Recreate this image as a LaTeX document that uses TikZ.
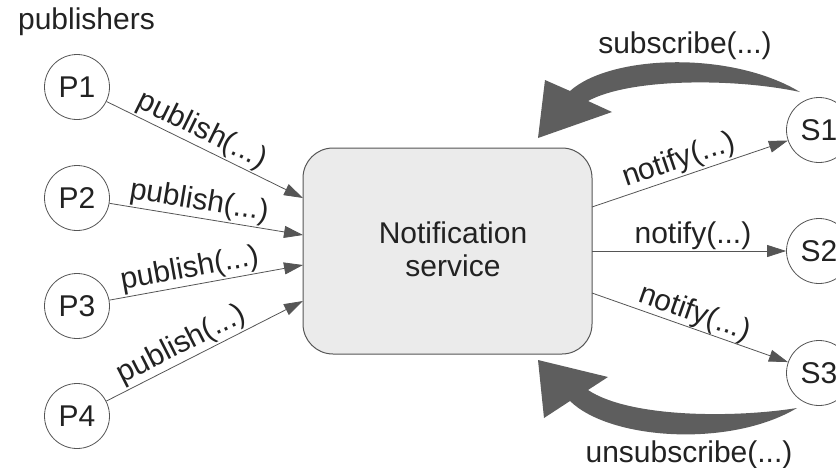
\documentclass[tikz,border=0pt]{standalone}
\usepackage{fontspec}
\setmainfont{Liberation Sans}
\usetikzlibrary{arrows.meta}
\definecolor{ink}{HTML}{222222}
\definecolor{edge}{HTML}{555555}
\definecolor{boxfill}{HTML}{EBEBEB}
\definecolor{bigarrow}{HTML}{5E5E5E}
\begin{document}
\begin{tikzpicture}[x=1pt,y=-1pt,
  font=\fontsize{30}{33}\selectfont, text=ink,
  party/.style={circle, draw=edge, line width=0.8pt, minimum size=65pt, inner sep=0pt, fill=white},
  msg/.style={draw=edge, line width=0.8pt, -{Triangle[length=19pt,width=12pt]}},
  lbl/.style={sloped, above, inner sep=1.5pt},
  service/.style={draw=edge, fill=boxfill, line width=1pt, rounded corners=30pt,
                  minimum width=289pt, minimum height=206pt, inner sep=0pt}]
\useasboundingbox (0,0) rectangle (836,467);

% central service box
\node[service] (svc) at (447.5,251) {};
\node[align=center, inner sep=0pt] (svctext) at (453,249) {Notification\\service};

% publishers
\node[anchor=base] (pubtitle) at (86.5,29) {publishers};
\node[party] (P1) at (77,87)  {P1};
\node[party] (P2) at (77,198) {P2};
\node[party] (P3) at (77,306) {P3};
\node[party] (P4) at (77,416) {P4};

% subscribers
\node[party] (S1) at (819,130) {S1};
\node[party] (S2) at (819,251) {S2};
\node[party] (S3) at (819,373) {S3};

% entry and exit points on the box sides
\coordinate (b1) at (303,198);
\coordinate (b2) at (303,235);
\coordinate (b3) at (303,265);
\coordinate (b4) at (303,301);
\coordinate (r1) at (592,207);
\coordinate (r2) at (592,251);
\coordinate (r3) at (592,293);

% publish calls
\draw[msg] (P1) -- (b1) node[lbl, pos=0.45] {publish(...)};
\draw[msg] (P2) -- (b2) node[lbl, pos=0.45] {publish(...)};
\draw[msg] (P3) -- (b3) node[lbl, pos=0.43] {publish(...)};
\draw[msg] (P4) -- (b4) node[lbl, pos=0.42] {publish(...)};

% notifications
\draw[msg] (r1) -- (S1) node[lbl, pos=0.47] {notify(...)};
\draw[msg] (r2) -- (S2) node[lbl, pos=0.52, inner sep=0.5pt] {notify(...)};
\draw[msg] (r3) -- (S3) node[lbl, pos=0.5, inner sep=0pt] {notify(...)};

% subscribe: tapered curved arrow into the box
\fill[bigarrow] (800,92) .. controls (730,50) and (610,55) .. (570,91)
  -- (545,80) -- (538,138) -- (612,112) -- (588,101)
  .. controls (630,78) and (735,78) .. (800,92) -- cycle;
\node[anchor=base] (sublbl) at (685,53) {subscribe(...)};

% unsubscribe: tapered curved arrow into the box
\fill[bigarrow] (797,408) .. controls (730,448) and (610,440) .. (570,401)
  -- (544,418) -- (538,360) -- (608,377) -- (588,390)
  .. controls (630,418) and (735,418) .. (797,408) -- cycle;
\node[anchor=base] (unsublbl) at (689,462) {unsubscribe(...)};
\end{tikzpicture}
\end{document}
